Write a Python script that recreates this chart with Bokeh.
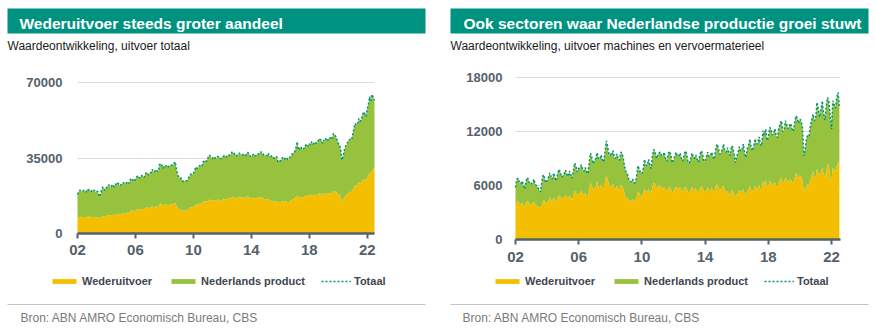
from bokeh.plotting import figure
from bokeh.layouts import row
from bokeh.models import (Label, BoxAnnotation, Legend, LegendItem, FixedTicker,
                          Range1d, ColumnDataSource)
from bokeh.embed import file_html
from bokeh.resources import INLINE

# ---------------- data (monthly, Jan 2002 - Jul 2022) ----------------
years = list(range(2002, 2023))

# Left chart: uitvoer totaal
left_totaal = [
    [18100, 19300, 20100, 19700, 19500, 20000, 19800, 19200, 20500, 20300, 20000, 19300],
    [20100, 19700, 20100, 19300, 19500, 19400, 17000, 18200, 20400, 21600, 20900, 19900],
    [21200, 22100, 22500, 21600, 21800, 22700, 22000, 21500, 23200, 23600, 23000, 22100],
    [22600, 23200, 23600, 23000, 22800, 24000, 23700, 23300, 25500, 25200, 24800, 24000],
    [25300, 26300, 26800, 25800, 26200, 27000, 26400, 25800, 27500, 28200, 28000, 27000],
    [28000, 28300, 29800, 28600, 28900, 29600, 29000, 28700, 32000, 32400, 31600, 30200],
    [31500, 31200, 31800, 30900, 31300, 31800, 31700, 31600, 32500, 33200, 29500, 27000],
    [26200, 25500, 25700, 24500, 24000, 24400, 24500, 24500, 25800, 27000, 27500, 27300],
    [28000, 29000, 30900, 30200, 30600, 31500, 31400, 31000, 33200, 33600, 34000, 33400],
    [35000, 36300, 36000, 35000, 34800, 35600, 35000, 34800, 35800, 35500, 35300, 34600],
    [35500, 35800, 36200, 35400, 36000, 36500, 36300, 36400, 37870, 37500, 37000, 35800],
    [36300, 36500, 37300, 36700, 36600, 36500, 36700, 36000, 37100, 37600, 37000, 35900],
    [35550, 36300, 36900, 36000, 36200, 36800, 37000, 36600, 37870, 37500, 36600, 36100],
    [36300, 36000, 37200, 36000, 35600, 36000, 35500, 34800, 35500, 35600, 33200, 33800],
    [33600, 34500, 35300, 34300, 34800, 35300, 34400, 34300, 35500, 35900, 37000, 37500],
    [38000, 40000, 42500, 38600, 39500, 40200, 39000, 38800, 40200, 40900, 41500, 40500],
    [41700, 41000, 42600, 41500, 41800, 42500, 41700, 42300, 44000, 43600, 43300, 41800],
    [43300, 42800, 44200, 43200, 43700, 44600, 43500, 44400, 46400, 45700, 45000, 43500],
    [41700, 41200, 39000, 34000, 35800, 38700, 40400, 41200, 42800, 43300, 43800, 43400],
    [46000, 49000, 51000, 50200, 50800, 53300, 52000, 52500, 55000, 56400, 55500, 54300],
    [57800, 60000, 63400, 61500, 64500, 63000, 61700],
]
left_wederuitvoer = [
    [7260, 7500, 7800, 7600, 7500, 7700, 7600, 7400, 7800, 7900, 7800, 7500],
    [7730, 7600, 7800, 7500, 7500, 7400, 7260, 7200, 7800, 8200, 8000, 7800],
    [8300, 8500, 8700, 8400, 8500, 8800, 8600, 8400, 9000, 9200, 9000, 8700],
    [9000, 9270, 9400, 9100, 9100, 9600, 9700, 9600, 10500, 10800, 10500, 10300],
    [10800, 11200, 11400, 11000, 11200, 11600, 11300, 11100, 11800, 12100, 12000, 11600],
    [12000, 12200, 12600, 12100, 12300, 12600, 12400, 12300, 13500, 13900, 13500, 13000],
    [13500, 13300, 13500, 13100, 13300, 13600, 13600, 13600, 13900, 14100, 12800, 11800],
    [11400, 11000, 11000, 10600, 10500, 10700, 10800, 10800, 11400, 12000, 12200, 12100],
    [12400, 12800, 13500, 13300, 13500, 13900, 13900, 13800, 14700, 14900, 15000, 14800],
    [15200, 15600, 15600, 15200, 15200, 15440, 15300, 15200, 15700, 15600, 15500, 15200],
    [15600, 15800, 16000, 15700, 16000, 16300, 16300, 16400, 17000, 16900, 16700, 16200],
    [16500, 16700, 17000, 16800, 16800, 16700, 16800, 16500, 17000, 17200, 16900, 16400],
    [16200, 16500, 16700, 16300, 16400, 16600, 16700, 16500, 16900, 16700, 16300, 16000],
    [15900, 15700, 16000, 15400, 15100, 15300, 15000, 14700, 14900, 14900, 14400, 14600],
    [14500, 14800, 15000, 14600, 14800, 15000, 14600, 14600, 15100, 15300, 15800, 16100],
    [16400, 17000, 17600, 16600, 16900, 17100, 16700, 16700, 17200, 17500, 17700, 17300],
    [17800, 17600, 18100, 17700, 17800, 18100, 17800, 18000, 18700, 18500, 18400, 17900],
    [18500, 18300, 18800, 18400, 18600, 19000, 18600, 18900, 19800, 19600, 19300, 18700],
    [18200, 18000, 17400, 14700, 15500, 16800, 17600, 18000, 18700, 19000, 19300, 19200],
    [20300, 21500, 22400, 22100, 22500, 24000, 23200, 23400, 24500, 25100, 24800, 24400],
    [25800, 26800, 28600, 27800, 29300, 29800, 30800],
]

# Right chart: uitvoer machines en vervoermaterieel
right_totaal = [
    [5800, 6700, 6800, 6300, 6200, 6500, 6100, 5600, 6500, 6900, 6600, 6100],
    [6200, 6300, 6700, 6100, 6000, 5800, 5500, 5300, 6400, 7200, 6900, 6300],
    [6500, 6900, 7400, 7000, 6700, 7400, 6900, 6500, 7300, 7800, 7500, 6900],
    [7100, 7300, 7700, 7300, 7000, 7600, 7200, 6800, 7700, 8500, 8100, 7500],
    [7900, 8000, 8300, 7800, 7600, 8000, 7500, 7300, 8600, 9600, 9100, 8400],
    [8800, 9000, 9650, 9000, 8900, 9400, 8900, 8600, 9800, 10950, 10300, 9400],
    [9500, 9300, 9900, 9200, 9000, 9500, 9000, 8800, 9700, 9600, 8900, 8000],
    [7500, 7300, 6700, 6500, 6400, 6700, 6300, 6300, 7000, 8200, 7800, 7400],
    [7300, 7900, 8900, 8300, 8200, 8900, 8300, 7900, 9300, 10000, 9800, 9000],
    [9400, 9600, 9700, 9300, 9300, 9700, 9000, 8700, 9600, 9800, 9400, 8500],
    [8800, 9300, 9700, 9200, 9300, 9600, 9000, 8700, 9400, 9850, 9500, 8600],
    [8500, 9000, 9600, 9200, 9000, 9400, 8900, 8600, 9400, 9850, 9600, 8700],
    [8700, 9200, 9700, 9200, 9300, 9700, 9200, 8900, 10000, 10600, 10200, 9500],
    [9600, 10000, 10600, 9900, 9700, 10200, 9700, 9300, 10400, 10300, 9500, 8550],
    [9200, 9700, 10300, 9800, 10000, 10600, 9600, 9100, 10100, 10500, 11150, 10200],
    [9850, 10400, 11200, 10600, 10700, 11400, 10600, 10400, 12080, 11600, 12250, 11000],
    [11300, 12440, 12300, 11600, 11800, 12300, 11500, 11330, 12400, 12900, 13190, 12000],
    [12100, 13190, 12800, 12300, 12630, 12900, 12300, 12000, 13000, 13740, 13500, 12900],
    [13370, 13200, 12400, 9300, 10000, 11200, 11600, 11500, 12630, 13300, 13920, 13200],
    [13500, 15220, 14500, 13600, 14500, 15400, 14000, 13300, 14800, 15780, 15400, 13800],
    [12250, 15400, 15000, 14600, 15800, 16330, 14850],
]
right_wederuitvoer = [
    [3750, 4200, 4300, 4000, 3900, 4100, 3900, 3600, 4100, 4300, 4200, 3900],
    [3900, 4000, 4200, 3900, 3800, 3700, 3600, 3500, 3900, 4400, 4300, 4000],
    [4100, 4300, 4700, 4400, 4300, 4700, 4400, 4100, 4700, 4900, 4800, 4500],
    [4600, 4700, 5000, 4700, 4600, 4900, 4700, 4400, 5000, 5400, 5200, 4900],
    [5100, 5200, 5400, 5100, 5000, 5200, 4900, 4800, 5600, 6300, 6000, 5500],
    [5700, 5900, 6500, 5900, 5800, 6100, 5800, 5600, 6400, 7100, 6700, 6100],
    [6000, 5800, 6200, 5800, 5600, 6000, 5700, 5500, 6100, 6000, 5600, 5000],
    [4700, 4600, 4400, 4300, 4300, 4500, 4300, 4300, 4700, 5300, 5100, 4800],
    [4800, 5100, 5700, 5300, 5300, 5700, 5300, 5100, 5900, 6300, 6200, 5700],
    [5900, 6000, 6000, 5700, 5700, 5900, 5500, 5300, 5800, 5900, 5700, 5200],
    [5400, 5700, 5900, 5600, 5700, 5800, 5500, 5300, 5700, 5900, 5700, 5200],
    [5200, 5500, 5800, 5600, 5500, 5700, 5400, 5200, 5700, 5900, 5800, 5300],
    [5300, 5500, 5800, 5500, 5500, 5800, 5400, 5200, 5900, 6200, 5900, 5500],
    [5600, 5800, 6100, 5500, 5200, 5400, 5100, 4900, 5500, 5500, 5100, 4700],
    [5000, 5200, 5500, 5300, 5300, 5600, 5100, 4900, 5400, 5600, 6000, 5400],
    [5300, 5600, 6000, 5700, 5700, 6100, 5600, 5500, 6500, 6200, 6700, 5900],
    [5900, 6500, 6400, 6100, 6200, 6400, 6000, 5900, 6400, 6700, 6900, 6300],
    [6300, 6900, 6700, 6400, 6600, 6700, 6400, 6300, 6800, 7400, 7200, 6800],
    [7100, 7000, 6600, 5300, 5600, 6000, 6200, 6100, 6700, 7100, 7600, 7000],
    [6900, 7900, 7500, 7100, 7500, 8000, 7300, 6900, 7700, 8400, 8100, 7100],
    [6500, 8000, 7800, 7600, 8200, 8600, 8300],
]

x_ticks = [2002, 2006, 2010, 2014, 2018, 2022]
x_tick_labels = ["02", "06", "10", "14", "18", "22"]
left_y_ticks = [0, 35000, 70000]
left_y_labels = ["0", "35000", "70000"]
right_y_ticks = [0, 6000, 12000, 18000]
right_y_labels = ["0", "6000", "12000", "18000"]

series_names = ["Wederuitvoer", "Nederlands product", "Totaal"]
titles = ["Wederuitvoer steeds groter aandeel",
          "Ook sectoren waar Nederlandse productie groei stuwt"]
subtitles = ["Waardeontwikkeling, uitvoer totaal",
             "Waardeontwikkeling, uitvoer machines en vervoermaterieel"]
source_text = "Bron: ABN AMRO Economisch Bureau, CBS"

# ---------------- styling ----------------
TEAL = "#009280"
YELLOW = "#F4BF00"
GREEN = "#96C23E"
LINE = "#00937F"
AXIS = "#55616B"
FONT = "Liberation Sans"
H = 329
TXT_SHIFT = 4.0   # label baseline correction (px up)


def month_x(rows):
    xs, vals = [], []
    for yr, r in zip(years, rows):
        for m, v in enumerate(r):
            xs.append(yr + m / 12.0)
            vals.append(v)
    return xs, vals


def make_panel(tot_rows, wed_rows, yticks, ylabels, title, subtitle, g):
    xs, tot = month_x(tot_rows)
    _, wed = month_x(wed_rows)
    src = ColumnDataSource(dict(x=xs, tot=tot, wed=wed))

    # frame covers the whole panel; the chart area is placed through the ranges
    W = g["w"]
    ppx = (g["px1"] - g["px0"]) / (g["xend"] - 2002.0)          # px per year
    x0 = 2002.0 - g["px0"] / ppx
    x1 = 2002.0 + (W - g["px0"]) / ppx
    ppy = (g["py0"] - g["py1"]) / float(yticks[-1])             # px per unit
    y0 = -(H - g["py0"]) / ppy
    y1 = yticks[-1] + g["py1"] / ppy

    p = figure(width=W, height=H, output_backend="svg", toolbar_location=None,
               x_range=Range1d(x0, x1), y_range=Range1d(y0, y1),
               min_border=0)
    p.outline_line_color = None
    p.background_fill_color = "white"
    p.border_fill_color = "white"

    # grid lines limited to the chart area
    p.xgrid.grid_line_color = None
    yg = p.ygrid[0]
    if "cross_bounds" in yg.properties():
        yg.ticker = FixedTicker(ticks=yticks)
        yg.bounds = (yticks[0], yticks[-1])
        yg.cross_bounds = (2002.0, g["xend"])
        yg.grid_line_color = "#DDDDDD"
    else:
        yg.grid_line_color = None
        p.segment(x0=[2002.0] * len(yticks), x1=[g["xend"]] * len(yticks),
                  y0=yticks, y1=yticks, line_color="#DDDDDD", line_width=1)

    r1 = p.varea(x="x", y1=0, y2="wed", source=src, fill_color=YELLOW)
    r2 = p.varea(x="x", y1="wed", y2="tot", source=src, fill_color=GREEN)
    r3 = p.line(x="x", y="tot", source=src, line_color=LINE, line_width=1.5,
                line_dash="2 2")

    ya = p.yaxis[0]
    ya.fixed_location = 2002.0
    ya.bounds = (yticks[0], yticks[-1])
    ya.ticker = FixedTicker(ticks=yticks)
    ya.major_label_overrides = {t: l for t, l in zip(yticks, ylabels)}
    ya.axis_line_color = None
    ya.major_tick_line_color = None
    ya.minor_tick_line_color = None
    ya.major_label_standoff = g["ystand"]
    ya.major_label_text_font = FONT
    ya.major_label_text_font_style = "bold"
    ya.major_label_text_font_size = "13px"
    ya.major_label_text_color = AXIS

    xa = p.xaxis[0]
    xa.fixed_location = 0
    xa.bounds = (2002.0, g["xend"])
    xa.ticker = FixedTicker(ticks=x_ticks)
    xa.major_label_overrides = {t: l for t, l in zip(x_ticks, x_tick_labels)}
    xa.axis_line_color = AXIS
    xa.axis_line_width = 2.5
    xa.major_tick_line_color = AXIS
    xa.major_tick_line_width = 2
    xa.major_tick_out = 5
    xa.major_tick_in = 0
    xa.minor_tick_line_color = None
    xa.major_label_standoff = g["xstand"]
    xa.major_label_text_font = FONT
    xa.major_label_text_font_style = "bold"
    xa.major_label_text_font_size = "15px"
    xa.major_label_text_color = AXIS

    def sy(cy):  # canvas y (from top) -> screen y (from frame bottom)
        return H - cy

    # title bar
    p.add_layout(BoxAnnotation(left=g["bar_l"], right=g["bar_r"],
                               bottom=sy(33), top=sy(8),
                               left_units="screen", right_units="screen",
                               bottom_units="screen", top_units="screen",
                               fill_color=TEAL, fill_alpha=1.0, line_color=None))
    p.add_layout(Label(x=g["title_x"], y=sy(26.7) + TXT_SHIFT, x_units="screen",
                       y_units="screen",
                       text=title, text_font=FONT, text_font_style="bold",
                       text_font_size="15.5px", text_color="white",
                       text_baseline="alphabetic"))
    p.add_layout(Label(x=g["bar_l"], y=sy(49.3) + TXT_SHIFT, x_units="screen",
                       y_units="screen",
                       text=subtitle, text_font=FONT, text_font_size="12px",
                       text_color="#1A1A1A", text_baseline="alphabetic"))

    legend = Legend(items=[LegendItem(label=series_names[0], renderers=[r1]),
                           LegendItem(label=series_names[1], renderers=[r2]),
                           LegendItem(label=series_names[2], renderers=[r3])],
                    orientation="horizontal",
                    location=(g["leg_x"], sy(g["leg_y"]) - 6.5),
                    glyph_width=30, glyph_height=6, label_standoff=3, spacing=16,
                    padding=0, margin=0, label_height=13,
                    border_line_color=None, background_fill_alpha=0,
                    label_text_font=FONT, label_text_font_style="bold",
                    label_text_font_size="11px", label_text_color="#3D4650")
    p.add_layout(legend)

    # separator line and source
    p.add_layout(BoxAnnotation(left=g["bar_l"], right=g["bar_r"],
                               bottom=sy(304.6), top=sy(303.6),
                               left_units="screen", right_units="screen",
                               bottom_units="screen", top_units="screen",
                               fill_color="#C4C4C4", fill_alpha=1.0, line_color=None))
    p.add_layout(Label(x=g["src_x"], y=sy(321.7) + TXT_SHIFT, x_units="screen",
                       y_units="screen",
                       text=source_text, text_font=FONT, text_font_size="12px",
                       text_color="#7A7A7A", text_baseline="alphabetic"))
    return p


# geometry in panel pixels (panel-local x, canvas y from top)
left_geom = dict(w=437, xend=2022.5, px0=77, px1=374, py0=233, py1=82,
                 ystand=9, xstand=6, bar_l=7, bar_r=425, title_x=19,
                 leg_x=49, leg_y=280.5, src_x=20)
right_geom = dict(w=438, xend=2022.57, px0=78, px1=403, py0=239, py1=77,
                  ystand=7, xstand=7, bar_l=13, bar_r=431, title_x=26,
                  leg_x=55, leg_y=281, src_x=25)

p_left = make_panel(left_totaal, left_wederuitvoer, left_y_ticks, left_y_labels,
                    titles[0], subtitles[0], left_geom)
p_right = make_panel(right_totaal, right_wederuitvoer, right_y_ticks, right_y_labels,
                     titles[1], subtitles[1], right_geom)

layout = row(p_left, p_right)
open("out.html", "w").write(file_html(layout, INLINE))
